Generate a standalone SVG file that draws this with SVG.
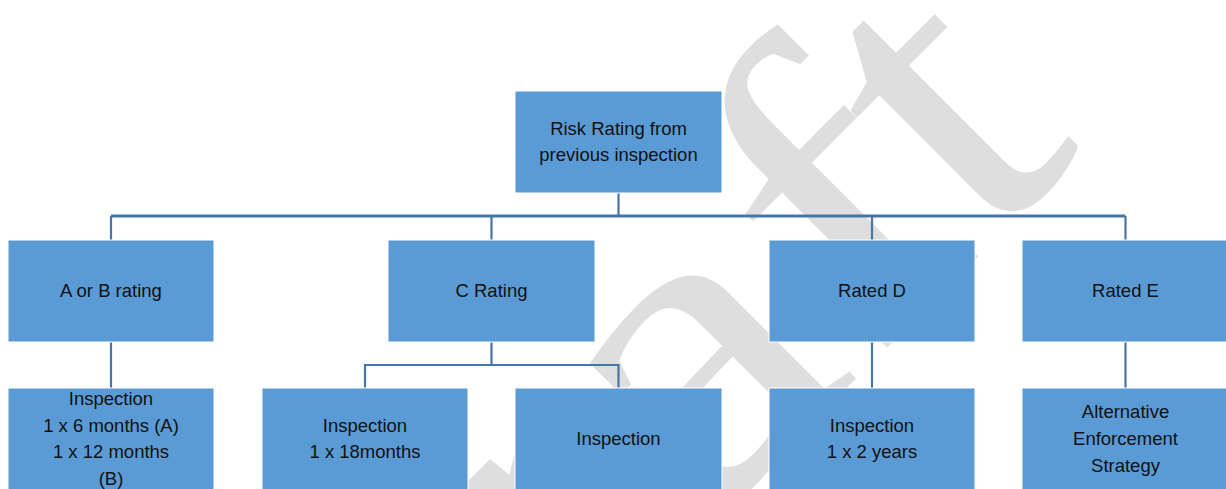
<svg xmlns="http://www.w3.org/2000/svg" width="1226" height="489" viewBox="0 0 1226 489">
  <style>
    .box { fill: #5b9bd5; stroke: #ffffff; stroke-width: 1; }
    .lbl { font-family: "Liberation Sans", Arial, sans-serif; font-size: 18.5px; fill: #111111; text-anchor: middle; }
    .conn { fill: none; stroke: #4675a8; stroke-width: 2.2; }
    .wm { font-family: "Liberation Serif", "Times New Roman", serif; font-size: 440px; fill: #dedede; }
  </style>
  <rect x="0" y="0" width="1226" height="489" fill="#ffffff"/>
  <g id="watermark" transform="rotate(-45) scale(1.18,1)">
    <text class="wm" x="-367 -49 97 305 439" y="873">Draft</text>
  </g>
  <g id="connectors">
    <path class="conn" d="M618.5 193 V216"/>
    <path class="conn" style="stroke-width:3" d="M111 216 H1125.5"/>
    <path class="conn" d="M111 216 V240 M491.5 216 V240 M872 216 V240 M1125.5 216 V240"/>
    <path class="conn" d="M111 342 V388"/>
    <path class="conn" d="M491.5 342 V365 M365 388 V365 H618.5 V388"/>
    <path class="conn" d="M872 342 V388"/>
    <path class="conn" d="M1125.5 342 V388"/>
  </g>
  <g id="node-root">
    <rect class="box" x="515" y="91" width="207" height="102"/>
    <text class="lbl" x="618.5" y="135">Risk Rating from</text>
    <text class="lbl" x="618.5" y="160.7">previous inspection</text>
  </g>
  <g id="node-ab">
    <rect class="box" x="8" y="240" width="206" height="102"/>
    <text class="lbl" x="111" y="297">A or B rating</text>
  </g>
  <g id="node-c">
    <rect class="box" x="388" y="240" width="207" height="102"/>
    <text class="lbl" x="491.5" y="297">C Rating</text>
  </g>
  <g id="node-d">
    <rect class="box" x="769" y="240" width="206" height="102"/>
    <text class="lbl" x="872" y="297">Rated D</text>
  </g>
  <g id="node-e">
    <rect class="box" x="1022" y="240" width="207" height="102"/>
    <text class="lbl" x="1125.5" y="297">Rated E</text>
  </g>
  <g id="node-ab-insp">
    <rect class="box" x="8" y="388" width="206" height="102"/>
    <text class="lbl" x="111" y="405">Inspection</text>
    <text class="lbl" x="111" y="431.7">1 x 6 months (A)</text>
    <text class="lbl" x="111" y="458.3">1 x 12 months</text>
    <text class="lbl" x="111" y="485">(B)</text>
  </g>
  <g id="node-c-insp1">
    <rect class="box" x="262" y="388" width="206" height="102"/>
    <text class="lbl" x="365" y="431.7">Inspection</text>
    <text class="lbl" x="365" y="458.3">1 x 18months</text>
  </g>
  <g id="node-c-insp2">
    <rect class="box" x="515" y="388" width="207" height="102"/>
    <text class="lbl" x="618.5" y="444.5">Inspection</text>
  </g>
  <g id="node-d-insp">
    <rect class="box" x="769" y="388" width="206" height="102"/>
    <text class="lbl" x="872" y="431.7">Inspection</text>
    <text class="lbl" x="872" y="458.3">1 x 2 years</text>
  </g>
  <g id="node-e-alt">
    <rect class="box" x="1022" y="388" width="207" height="102"/>
    <text class="lbl" x="1125.5" y="418.3">Alternative</text>
    <text class="lbl" x="1125.5" y="445">Enforcement</text>
    <text class="lbl" x="1125.5" y="471.7">Strategy</text>
  </g>
</svg>
